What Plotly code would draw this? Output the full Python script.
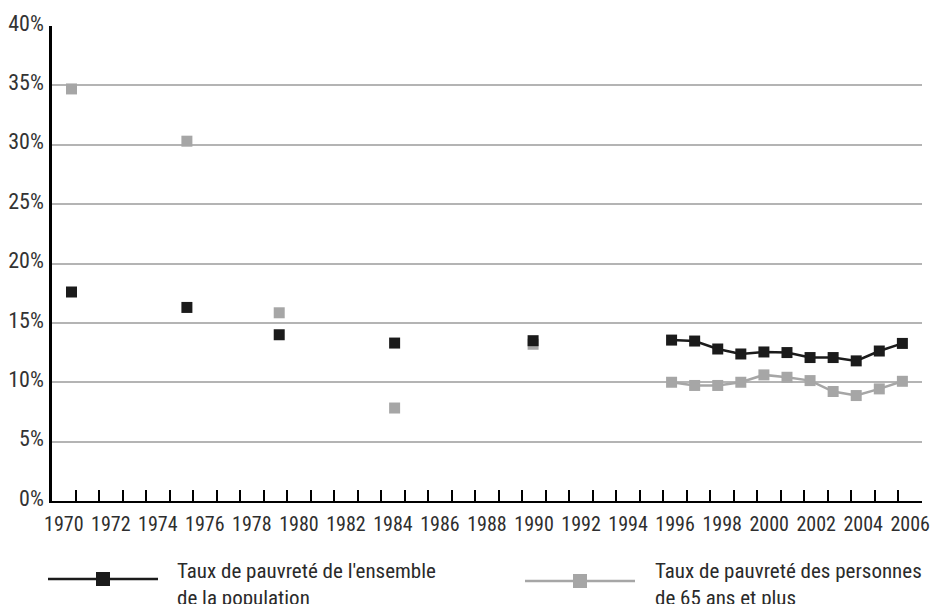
import plotly.graph_objects as go

# Survey years and poverty rates (%)
years = [1970, 1975, 1979, 1984, 1990, 1996, 1997, 1998, 1999, 2000,
         2001, 2002, 2003, 2004, 2005, 2006]
rate_all = [17.6, 16.3, 14.0, 13.3, 13.5, 13.55, 13.47, 12.8, 12.38, 12.55,
            12.5, 12.08, 12.08, 11.8, 12.63, 13.27]
rate_65 = [34.7, 30.3, 15.85, 7.83, 13.2, 10.0, 9.73, 9.73, 10.0, 10.62,
           10.42, 10.14, 9.22, 8.88, 9.44, 10.08]

y_ticks = [0, 5, 10, 15, 20, 25, 30, 35, 40]
y_labels = [f"{v}%" for v in y_ticks]

name_all = "Taux de pauvreté de l'ensemble<br>de la population"
name_65 = "Taux de pauvreté des personnes<br>de 65 ans et plus"

BLACK = "#1b1b1b"
GREY = "#a6a6a6"
FONT = "Liberation Sans Narrow, Arial Narrow, Roboto Condensed, Liberation Sans, sans-serif"

W, H = 932, 604
L, R, T, B = 52, 922, 26, 501


def with_gaps(xs, ys):
    """Break the line wherever consecutive survey years are not adjacent."""
    gx, gy = [], []
    for i, (x, y) in enumerate(zip(xs, ys)):
        if i and x - xs[i - 1] > 1:
            gx.append(None)
            gy.append(None)
        gx.append(x)
        gy.append(y)
    return gx, gy


fig = go.Figure()

# Invisible anchor trace so the year axis (band ticks + labels) is drawn
fig.add_trace(go.Scatter(x=years, y=rate_all, mode="markers",
                         marker=dict(opacity=0), xaxis="x", yaxis="y",
                         showlegend=False, hoverinfo="skip"))

for vals, col in [(rate_65, GREY), (rate_all, BLACK)]:
    gx, gy = with_gaps(years, vals)
    fig.add_trace(go.Scatter(
        x=gx, y=gy, mode="lines+markers", connectgaps=False,
        line=dict(color=col, width=2.5),
        marker=dict(symbol="square", size=11, color=col, line=dict(width=0)),
        xaxis="x2", yaxis="y", showlegend=False, hoverinfo="x+y",
    ))


def px(x):
    return (x - L) / (R - L)


def py(y):
    return (B - y) / (B - T)


# Hand-drawn legend below the plot
shapes = []
annotations = []
for (x0, x1, ly, col, tx, text) in [
    (48, 158, 579, BLACK, 175, name_all),
    (525, 635, 581, GREY, 653, name_65),
]:
    shapes.append(dict(type="line", xref="paper", yref="paper",
                       x0=px(x0), x1=px(x1), y0=py(ly), y1=py(ly),
                       line=dict(color=col, width=2.5)))
    cx = (x0 + x1) / 2
    shapes.append(dict(type="rect", xref="paper", yref="paper",
                       x0=px(cx - 7), x1=px(cx + 7), y0=py(ly - 7), y1=py(ly + 7),
                       fillcolor=col, line=dict(width=0)))
    annotations.append(dict(xref="paper", yref="paper", x=px(tx), y=py(557),
                            xanchor="left", yanchor="top", align="left",
                            showarrow=False, text=text,
                            font=dict(family=FONT, size=21, color="#2a2a2a")))

fig.update_layout(
    width=W, height=H,
    margin=dict(l=L, r=W - R, t=T, b=H - B, pad=0, autoexpand=False),
    paper_bgcolor="white", plot_bgcolor="white",
    font=dict(family=FONT, size=18, color="#333333"),
    xaxis=dict(
        range=[1969.5, 2006.5], tickmode="linear", tick0=1970, dtick=2,
        ticks="inside", ticklen=0, showgrid=False, zeroline=False,
        showline=True, linecolor="black", linewidth=2, automargin=False,
        ticklabelstandoff=4,
        minor=dict(tickmode="linear", tick0=1970.5, dtick=1, ticks="inside",
                   ticklen=11, tickwidth=2, tickcolor="black", showgrid=False),
        tickfont=dict(size=20, color="#2e2e2e"), fixedrange=True,
    ),
    xaxis2=dict(range=[1969.155, 2006.85], overlaying="x", visible=False,
                automargin=False, fixedrange=True),
    yaxis=dict(
        range=[0, 40], tickmode="array", tickvals=y_ticks, ticktext=y_labels,
        ticks="", showgrid=True, gridcolor="#b4b4b4", gridwidth=1.5,
        zeroline=False, showline=True, linecolor="black", linewidth=2.5,
        automargin=False,
        ticklabelstandoff=1, ticklabelshift=-3,
        tickfont=dict(size=22, color="#333333"), fixedrange=True,
    ),
    shapes=shapes, annotations=annotations,
)

fig.write_html("out.html")
